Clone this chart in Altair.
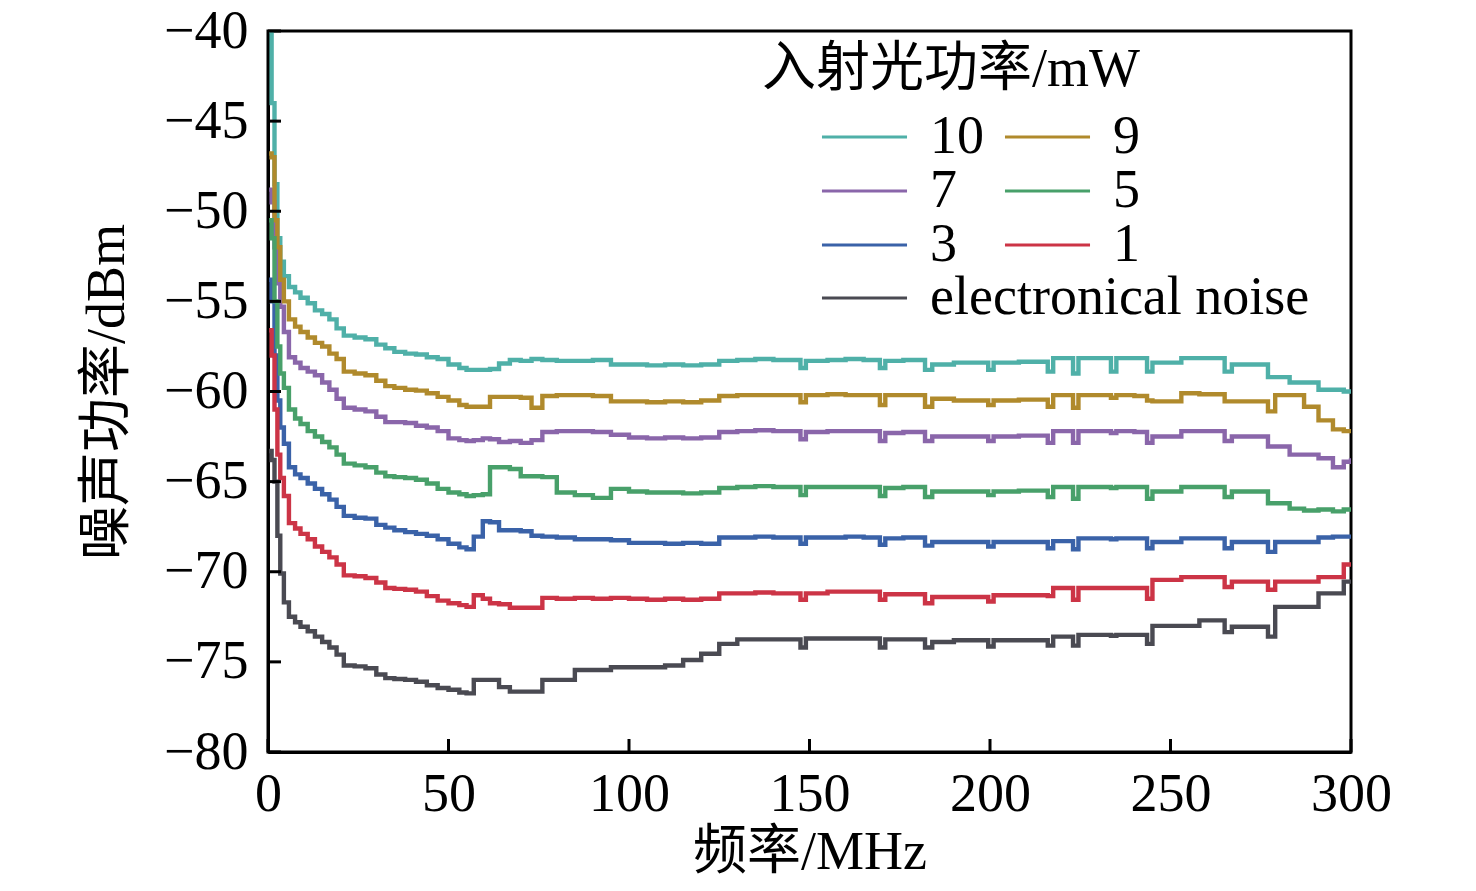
import altair as alt
import pandas as pd

SERIF = "Liberation Serif, Noto Sans CJK SC"

# frequency grid (MHz), shared by every trace
freq = [0.3, 1.0, 1.8, 2.6, 3.4, 4.4, 5.8, 7.5, 9, 11, 13, 15, 17, 19, 21, 24, 27, 30, 32.5, 35, 38, 41, 44, 47, 50, 53,
        55, 57, 59.5, 61.5, 64, 67, 70, 73, 76, 80,
        85, 90, 95, 100, 105, 110, 115, 120, 125, 130,
        135, 140, 147.5, 149, 155, 160, 165, 169.5, 171, 176,
        182, 184, 190, 199.5, 201, 208, 216, 217.5, 223, 224.5,
        229, 233.5, 235, 240, 243.5, 245, 253, 258, 265, 267,
        272, 277, 279, 283, 287, 291, 295, 298, 300]

p10 = [-40.0, -44.0, -48.5, -51.5, -52.8, -53.6, -54.2, -54.5, -54.8, -55.1, -55.5, -55.7, -56.0, -56.5, -56.9, -57.0, -57.1, -57.4, -57.6, -57.8, -57.9, -57.95, -58.1, -58.2, -58.5, -58.7,
       -58.8, -58.8, -58.8, -58.75, -58.45, -58.25, -58.3, -58.2, -58.25, -58.3,
       -58.3, -58.25, -58.5, -58.5, -58.55, -58.5, -58.55, -58.5, -58.3, -58.25,
       -58.2, -58.25, -58.7, -58.3, -58.25, -58.2, -58.25, -58.7, -58.3, -58.25,
       -58.8, -58.5, -58.4, -58.8, -58.4, -58.35, -58.9, -58.15, -59.0, -58.15,
       -58.15, -58.9, -58.15, -58.15, -58.9, -58.4, -58.15, -58.15, -58.9, -58.5,
       -58.5, -59.2, -59.2, -59.5, -59.5, -59.9, -59.9, -60.0, -60.1]

p9 = [-46.8, -47.0, -50.5, -52.0, -53.8, -55.0, -56.0, -56.4, -56.7, -57.0, -57.3, -57.5, -57.9, -58.2, -58.9, -59.0, -59.1, -59.4, -59.7, -59.8, -59.9, -59.95, -60.1, -60.3, -60.5, -60.75,
      -60.85, -60.85, -60.85, -60.3, -60.3, -60.3, -60.35, -60.9, -60.25, -60.2,
      -60.2, -60.25, -60.55, -60.55, -60.6, -60.55, -60.6, -60.5, -60.25, -60.2,
      -60.2, -60.2, -60.6, -60.2, -60.15, -60.2, -60.2, -60.75, -60.2, -60.2,
      -60.85, -60.4, -60.5, -60.75, -60.5, -60.45, -60.85, -60.2, -60.9, -60.2,
      -60.2, -60.35, -60.2, -60.25, -60.5, -60.55, -60.1, -60.15, -60.55, -60.55,
      -60.55, -61.1, -60.2, -60.2, -60.85, -61.6, -62.1, -62.2, -62.3]

p7 = [-48.8, -49.5, -52.0, -54.0, -55.3, -56.7, -58.1, -58.4, -58.7, -58.9, -59.1, -59.5, -59.9, -60.4, -60.9, -61.0, -61.1, -61.4, -61.7, -61.7, -61.75, -61.9, -62.0, -62.2, -62.6, -62.7,
      -62.75, -62.7, -62.6, -62.65, -62.8, -62.75, -62.85, -62.7, -62.25, -62.2,
      -62.2, -62.25, -62.4, -62.55, -62.6, -62.55, -62.6, -62.55, -62.25, -62.2,
      -62.15, -62.2, -62.65, -62.25, -62.2, -62.2, -62.2, -62.75, -62.3, -62.25,
      -62.75, -62.5, -62.5, -62.75, -62.5, -62.45, -62.85, -62.2, -62.85, -62.2,
      -62.2, -62.3, -62.2, -62.25, -62.85, -62.5, -62.2, -62.2, -62.75, -62.5,
      -62.5, -63.05, -63.05, -63.5, -63.5, -63.7, -64.2, -63.9, -63.7]

p5 = [-50.5, -51.5, -55.0, -57.5, -59.0, -59.8, -61.0, -61.5, -61.8, -62.2, -62.5, -62.8, -63.1, -63.5, -64.0, -64.1, -64.2, -64.5, -64.7, -64.75, -64.8, -64.9, -65.1, -65.4, -65.6, -65.7,
      -65.8, -65.75, -65.7, -64.2, -64.2, -64.3, -64.7, -64.7, -64.75, -65.6,
      -65.75, -65.9, -65.4, -65.55, -65.6, -65.6, -65.65, -65.6, -65.35, -65.3,
      -65.25, -65.3, -65.75, -65.3, -65.3, -65.3, -65.3, -65.8, -65.35, -65.3,
      -65.85, -65.55, -65.55, -65.75, -65.55, -65.5, -65.85, -65.3, -65.95, -65.3,
      -65.3, -65.35, -65.3, -65.3, -65.95, -65.55, -65.3, -65.3, -65.85, -65.55,
      -65.55, -66.2, -66.2, -66.5, -66.6, -66.55, -66.65, -66.55, -66.6]

p3 = [-53.8, -55.0, -58.0, -60.5, -62.0, -62.9, -64.2, -64.6, -64.8, -65.1, -65.4, -65.7, -66.0, -66.4, -66.9, -67.0, -67.05, -67.4, -67.55, -67.7, -67.8, -67.9, -68.0, -68.2, -68.45, -68.65,
      -68.75, -68.05, -67.2, -67.25, -67.7, -67.7, -67.75, -68.0, -68.05, -68.1,
      -68.2, -68.2, -68.25, -68.4, -68.4, -68.45, -68.4, -68.45, -68.1, -68.1,
      -68.05, -68.1, -68.45, -68.1, -68.1, -68.05, -68.1, -68.5, -68.15, -68.1,
      -68.55, -68.35, -68.35, -68.6, -68.35, -68.35, -68.7, -68.3, -68.75, -68.15,
      -68.15, -68.2, -68.15, -68.15, -68.7, -68.35, -68.15, -68.15, -68.7, -68.35,
      -68.35, -68.9, -68.35, -68.35, -68.35, -68.1, -68.05, -68.05, -68.0]

p1 = [-56.6, -58.0, -61.0, -63.5, -64.8, -65.8, -67.3, -67.6, -67.9, -68.2, -68.6, -68.9, -69.2, -69.6, -70.2, -70.25, -70.35, -70.6, -70.9, -70.95, -71.0, -71.1, -71.35, -71.6, -71.75, -71.85,
      -71.95, -71.3, -71.5, -71.75, -71.8, -72.0, -72.0, -72.0, -71.45, -71.5,
      -71.45, -71.5, -71.45, -71.5, -71.55, -71.5, -71.55, -71.5, -71.2, -71.2,
      -71.15, -71.2, -71.55, -71.2, -71.1, -71.1, -71.1, -71.55, -71.25, -71.25,
      -71.75, -71.4, -71.4, -71.65, -71.3, -71.3, -71.35, -70.9, -71.55, -70.9,
      -70.9, -70.9, -70.9, -70.9, -71.5, -70.45, -70.3, -70.3, -70.85, -70.55,
      -70.55, -71.0, -70.55, -70.55, -70.55, -70.3, -70.3, -69.6, -69.6]

noise = [-63.3, -63.8, -65.0, -68.0, -70.1, -71.7, -72.5, -72.8, -73.05, -73.3, -73.6, -73.9, -74.2, -74.6, -75.2, -75.25, -75.35, -75.7, -75.9, -75.95, -76.0, -76.1, -76.3, -76.45, -76.55, -76.7,
         -76.75, -76.0, -76.0, -76.0, -76.4, -76.65, -76.65, -76.65, -76.0, -76.0,
         -75.45, -75.45, -75.3, -75.3, -75.3, -75.2, -74.9, -74.55, -74.0, -73.75,
         -73.75, -73.75, -74.2, -73.7, -73.7, -73.7, -73.7, -74.2, -73.75, -73.75,
         -74.2, -73.9, -73.8, -74.15, -73.8, -73.8, -74.1, -73.6, -74.1, -73.5,
         -73.5, -73.55, -73.5, -73.5, -74.0, -73.0, -73.0, -72.7, -73.35, -73.05,
         -73.05, -73.6, -71.95, -71.95, -71.95, -71.2, -71.2, -70.55, -70.55]

# legend fills column by column: first column 10, 7, 3; second column 9, 5, 1
power_labels = ["10", "7", "3", "9", "5", "1"]
power_series = [p10, p7, p3, p9, p5, p1]
power_colors = ["#4fb0a8", "#8a66aa", "#3a62a8", "#b08a2c", "#48a06a", "#cc3446"]
noise_label = "electronical noise"
noise_color = "#4a4a52"
legend_title = "入射光功率/mW"

x_ticks = [0, 50, 100, 150, 200, 250, 300]
y_ticks = [-80, -75, -70, -65, -60, -55, -50, -45, -40]

rows = []
for lab, vals in zip(power_labels, power_series):
    for f, v in zip(freq, vals):
        rows.append({"f": f, "v": v, "p": lab})
df_power = pd.DataFrame(rows)
df_noise = pd.DataFrame({"f": freq, "v": noise, "s": [noise_label] * len(freq)})

W, H = 1083, 721

xscale = alt.Scale(domain=[0, 300], nice=False)
yscale = alt.Scale(domain=[-80, -40], nice=False)

xaxis = alt.Axis(title="频率/MHz", values=x_ticks, ticks=False, labelFlush=False, labelPadding=15,
                 titleY=100, titleBaseline="middle", grid=False)
yaxis = alt.Axis(title="噪声功率/dBm", values=y_ticks, ticks=False, labelFlush=False, labelPadding=20,
                 titleX=-161, titleBaseline="middle", grid=False)

common_legend = dict(orient="none", title=None, padding=0, rowPadding=0, columnPadding=14,
                     symbolType="M-4,0H4", symbolSize=452, symbolStrokeWidth=3,
                     symbolOffset=15.5, labelOffset=38.5, labelFont=SERIF, labelFontSize=54,
                     labelColor="black", labelLimit=1000)

LW = 4.4

power = alt.Chart(df_power).mark_line(interpolate="step-after", strokeWidth=LW, clip=True).encode(
    x=alt.X("f:Q", scale=xscale, axis=xaxis),
    y=alt.Y("v:Q", scale=yscale, axis=yaxis),
    color=alt.Color("p:N", scale=alt.Scale(domain=power_labels, range=power_colors),
                    legend=alt.Legend(columns=2, gridAlign="each", legendX=554, legendY=79, **common_legend)),
)

noise_line = alt.Chart(df_noise).mark_line(interpolate="step-after", strokeWidth=LW, clip=True).encode(
    x=alt.X("f:Q"),
    y=alt.Y("v:Q"),
    color=alt.Color("s:N", scale=alt.Scale(domain=[noise_label], range=[noise_color]),
                    legend=alt.Legend(legendX=554, legendY=240, **common_legend)),
)

xt = alt.Chart(pd.DataFrame({"f": x_ticks})).mark_rule(color="black", strokeWidth=3).encode(
    x=alt.X("f:Q"), y=alt.value(H), y2=alt.value(H - 13))
yt = alt.Chart(pd.DataFrame({"v": y_ticks})).mark_rule(color="black", strokeWidth=3).encode(
    y=alt.Y("v:Q"), x=alt.value(0), x2=alt.value(13))

chart = alt.layer(power, noise_line, xt, yt).resolve_scale(color="independent").resolve_legend(
    color="independent"
).properties(
    width=W, height=H,
    autosize=alt.AutoSizeParams(type="none"),
    padding={"left": 260, "top": 23, "right": 110, "bottom": 134},
    title=alt.TitleParams(legend_title, anchor="start", frame="group", orient="top", offset=-136,
                          dx=494, baseline="alphabetic", font=SERIF, fontSize=54,
                          fontWeight="normal", color="black"),
).configure_view(stroke="black", strokeWidth=3).configure_axis(
    domainColor="black", domainWidth=3, labelFont=SERIF, labelFontSize=54, labelColor="black",
    titleFont=SERIF, titleFontSize=54, titleFontWeight="normal", titleColor="black"
)

chart.save("out.html", embed_options={"renderer": "svg", "actions": False})
